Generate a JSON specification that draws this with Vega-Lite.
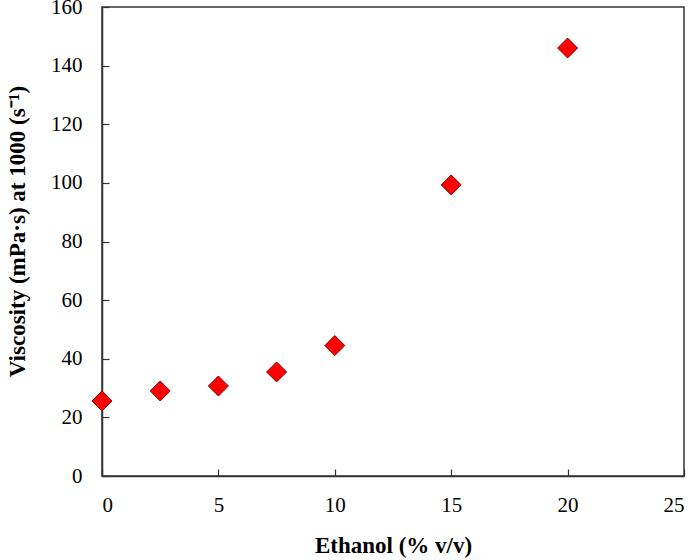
{
  "$schema": "https://vega.github.io/schema/vega-lite/v6.json",
  "autosize": {"type": "none"},
  "width": 582,
  "height": 469,
  "padding": {"left": 102, "top": 7, "right": 10, "bottom": 84},
  "background": "white",
  "data": {
    "values": [
      {"ethanol": 0, "viscosity": 25.6},
      {"ethanol": 2.5, "viscosity": 29.0},
      {"ethanol": 5, "viscosity": 30.7},
      {"ethanol": 7.5, "viscosity": 35.5},
      {"ethanol": 10, "viscosity": 44.5},
      {"ethanol": 15, "viscosity": 99.3},
      {"ethanol": 20, "viscosity": 146.0}
    ]
  },
  "config": {
    "view": {"stroke": "#333333", "strokeWidth": 1.5},
    "axis": {
      "labelFont": "Liberation Serif",
      "titleFont": "Liberation Serif",
      "labelFontSize": 21,
      "titleFontSize": 23,
      "titleFontWeight": "bold",
      "labelColor": "black",
      "titleColor": "black",
      "grid": false,
      "domainColor": "#333333",
      "domainWidth": 1.5,
      "tickColor": "#333333",
      "tickWidth": 1.2,
      "tickSize": -7
    }
  },
  "mark": {
    "type": "point",
    "shape": "diamond",
    "filled": true,
    "size": 400,
    "fill": "#ff0000",
    "stroke": "#8b0000",
    "strokeWidth": 1,
    "opacity": 1
  },
  "encoding": {
    "x": {
      "field": "ethanol",
      "type": "quantitative",
      "title": "Ethanol (% v/v)",
      "scale": {"domain": [0, 25], "nice": false},
      "axis": {"values": [0, 5, 10, 15, 20, 25], "labelPadding": 25, "titlePadding": 19}
    },
    "y": {
      "field": "viscosity",
      "type": "quantitative",
      "title": "Viscosity (mPa·s) at 1000 (s⁻¹)",
      "scale": {"domain": [0, 160], "nice": false},
      "axis": {
        "values": [0, 20, 40, 60, 80, 100, 120, 140, 160],
        "labelPadding": 27,
        "titleX": -85,
        "titleY": 224,
        "titleBaseline": "middle"
      }
    }
  }
}
